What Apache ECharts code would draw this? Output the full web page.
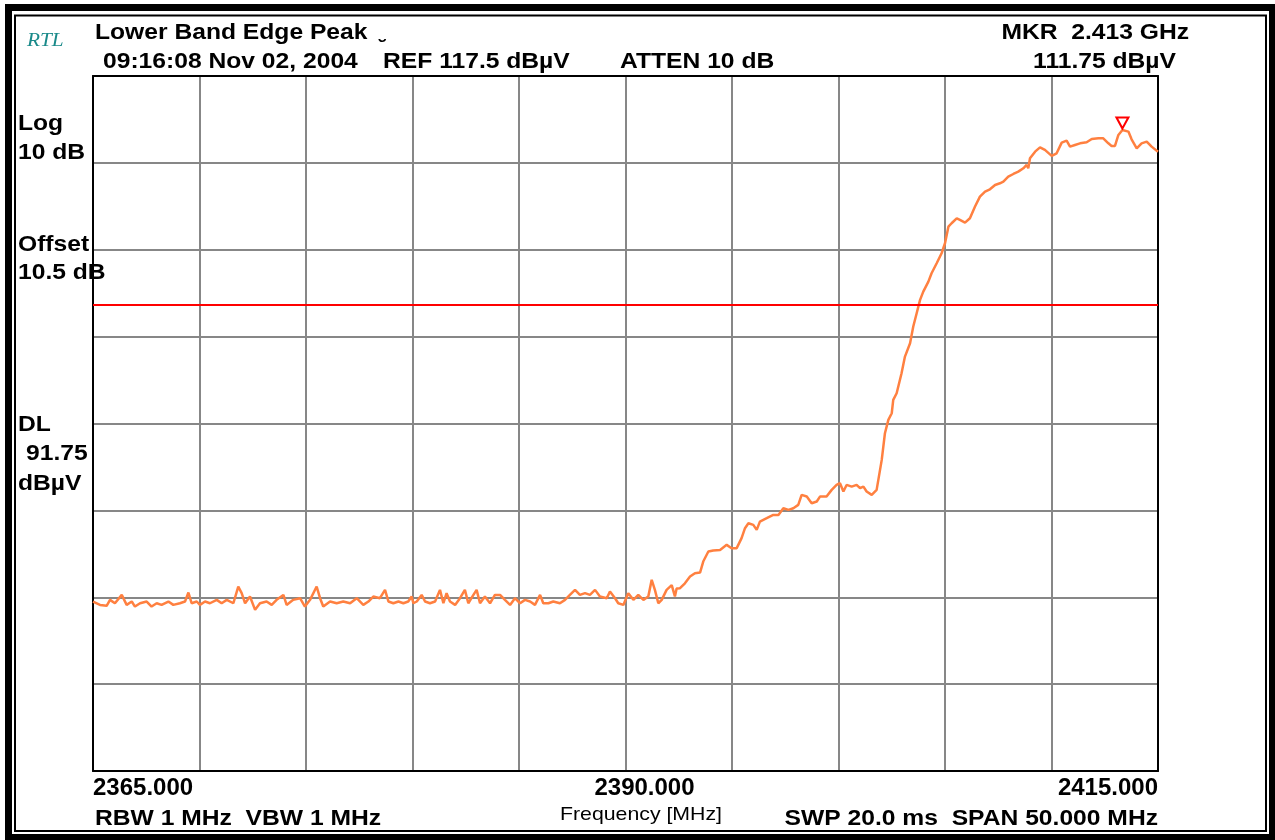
<!DOCTYPE html>
<html><head><meta charset="utf-8">
<script src="https://cdn.jsdelivr.net/npm/echarts@6/dist/echarts.min.js"></script>
<style>html,body{margin:0;padding:0;background:#fff}#c{width:1275px;height:840px}</style>
</head><body><div id="c"></div>
<script>
// Trace: frequency (MHz) and level (dBµV)
const freqMHz = [
2365.00,2365.33,2365.64,2365.80,2366.03,2366.35,2366.58,2366.82,2366.97,2367.21,
2367.52,2367.75,2367.99,2368.22,2368.54,2368.77,2369.08,2369.32,2369.48,2369.63,
2369.87,2370.02,2370.26,2370.49,2370.81,2371.04,2371.28,2371.59,2371.82,2371.98,
2372.14,2372.37,2372.61,2372.84,2373.15,2373.39,2373.62,2373.94,2374.09,2374.40,
2374.72,2374.95,2375.19,2375.50,2375.66,2375.81,2376.13,2376.44,2376.75,2377.07,
2377.38,2377.69,2377.93,2378.16,2378.47,2378.71,2378.87,
2378.94,2379.10,2379.34,2379.57,2379.80,2379.96,2380.04,2380.20,2380.43,2380.59,
2380.82,2381.06,2381.29,2381.45,2381.60,2381.76,2382.00,2382.23,2382.46,2382.62,
2382.86,2383.01,2383.17,2383.40,2383.64,2383.87,2384.11,2384.34,2384.58,2384.81,
2385.05,2385.28,2385.52,2385.75,2385.99,2386.14,2386.38,2386.61,2386.92,2387.16,
2387.39,2387.63,2387.86,2388.10,2388.33,2388.57,2388.80,2389.12,2389.27,2389.51,
2389.66,2389.90,2390.13,2390.37,2390.60,2390.84,2391.07,2391.23,2391.38,2391.54,
2391.70,2391.93,2392.17,2392.32,2392.40,2392.56,2392.79,2393.03,2393.26,2393.50,
2393.65,2393.89,2394.12,2394.44,2394.75,2394.98,2395.22,2395.45,2395.61,2395.77,
2396.00,2396.16,2396.31,2396.63,2396.94,2397.18,2397.41,2397.65,2397.88,2398.11,
2398.27,2398.51,2398.74,2398.98,2399.13,2399.44,2399.68,2399.91,2400.07,2400.23,
2400.38,2400.62,2400.85,2401.01,2401.17,2401.32,2401.56,2401.79,
2401.87,2402.03,2402.18,2402.34,2402.50,2402.57,2402.73,2402.96,2403.12,2403.36,
2403.51,2403.67,2403.83,2403.98,2404.22,2404.37,2404.61,2404.84,2405.00,2405.16,
2405.31,2405.55,2405.70,2405.94,2406.17,2406.41,2406.64,2406.88,2407.11,2407.35,
2407.58,2407.74,2407.97,2408.21,2408.44,2408.68,2408.83,2408.91,2408.99,2409.23,
2409.46,2409.69,2410.01,2410.24,2410.48,2410.71,2410.87,2411.10,2411.34,2411.65,
2411.89,2412.20,2412.43,2412.67,2412.82,2412.98,2413.14,2413.33,2413.61,2413.76,
2414.00,2414.23,2414.47,2414.70,2415.00
];
const levelDbuV = [
57.01,56.62,56.51,57.20,56.81,57.77,56.62,57.01,56.43,56.81,
57.01,56.43,56.81,56.62,57.01,56.62,56.81,57.01,58.04,56.81,
57.01,56.62,57.01,56.81,57.20,56.81,57.20,56.81,58.73,57.97,
56.81,57.58,56.05,56.81,57.01,56.62,57.20,57.77,56.62,57.20,
57.39,56.43,57.20,58.73,57.39,56.43,57.01,56.81,57.01,56.81,
57.39,56.62,57.01,57.58,57.39,58.35,57.01,
57.01,56.81,57.01,56.81,57.01,57.58,56.81,57.01,57.77,57.01,
56.81,57.01,58.35,56.81,57.97,57.01,56.62,57.39,58.35,56.81,
57.77,58.35,56.81,57.58,56.81,57.77,57.77,57.20,56.62,57.39,
56.81,57.20,57.01,56.62,57.77,56.81,56.81,57.01,56.81,57.20,
57.77,58.35,57.77,57.97,57.77,58.35,57.58,57.39,58.16,57.39,
56.81,56.62,57.97,57.20,57.77,57.20,57.58,59.50,58.35,56.81,
57.20,58.35,58.90,57.60,58.50,58.54,59.10,59.88,60.27,60.34,
61.61,62.76,62.88,62.95,63.53,63.15,63.15,64.30,65.45,66.02,
65.83,65.26,66.21,66.60,66.98,66.98,67.75,67.56,67.75,68.13,
69.28,69.09,68.32,68.52,69.09,69.09,69.86,70.43,70.63,69.67,
70.43,70.24,70.43,70.05,70.24,69.67,69.28,69.86,
71.01,73.31,76.38,77.92,78.68,80.22,80.98,83.29,85.20,86.74,
88.66,90.19,91.73,92.68,93.83,94.79,95.94,97.10,98.25,100.16,
100.55,101.12,100.93,100.62,101.12,102.47,103.62,104.19,104.46,104.96,
105.15,105.34,105.92,106.22,106.49,106.88,107.26,106.88,108.03,108.79,
109.29,108.99,108.30,108.60,109.83,110.06,109.37,109.56,109.75,109.87,
110.25,110.33,110.33,109.75,109.45,109.45,110.71,111.29,111.10,110.21,
109.18,109.75,109.95,109.37,108.79
];
const xTickValues = [2365, 2390, 2415];
const xTickLabels = ['2365.000', '2390.000', '2415.000'];
const freqRange = [2365, 2415, 5];          // start, stop, MHz/div
const levelRange = [37.5, 117.5, 10];       // bottom, ref level, dB/div
const displayLine = [91.2];                 // DL line as drawn
const markerPoint = [2413.33, 111.29];      // MKR peak

const FONT = '"Liberation Sans", Arial, sans-serif';
const SX = 1.12;
function txt(text, x, y, o) {
  return {type: 'text', x: x, y: y, z: 100, silent: true, scaleX: SX, scaleY: 1,
    style: Object.assign({text: text, x: 0, y: 0, fill: '#000', fontFamily: FONT, fontWeight: 'bold', fontSize: 22,
      textAlign: 'left', align: 'left', textVerticalAlign: 'middle', verticalAlign: 'middle'}, o || {})};
}

const chart = echarts.init(document.getElementById('c'), null, {renderer: 'canvas'});
const axisBorder = {show: true, lineStyle: {color: '#000', width: 2}};
chart.setOption({
  animation: false,
  backgroundColor: '#fff',
  grid: {left: 93, right: 117, top: 76, bottom: 69, containLabel: false},
  xAxis: [{
    type: 'value', position: 'bottom', min: freqRange[0], max: freqRange[1], interval: freqRange[2],
    axisLine: axisBorder, axisTick: {show: false},
    splitLine: {show: true, lineStyle: {color: '#878787', width: 2}},
    axisLabel: {
      show: true, showMinLabel: true, showMaxLabel: true, hideOverlap: false,
      alignMinLabel: 'left', alignMaxLabel: 'right',
      margin: 5, color: '#000', fontFamily: FONT, fontWeight: 'bold', fontSize: 24,
      rich: {mid: {fontFamily: FONT, fontWeight: 'bold', fontSize: 24, color: '#000', padding: [0, 0, 0, 38]}},
      formatter: function (v) {
        const i = xTickValues.indexOf(Math.round(v * 1000) / 1000);
        if (i < 0) return '';
        return (i === 1) ? '{mid|' + xTickLabels[i] + '}' : xTickLabels[i];
      }
    }
  }, {
    type: 'value', position: 'top', min: freqRange[0], max: freqRange[1], interval: freqRange[2],
    axisLine: axisBorder, axisTick: {show: false}, axisLabel: {show: false}, splitLine: {show: false}
  }],
  yAxis: [{
    type: 'value', position: 'left', min: levelRange[0], max: levelRange[1], interval: levelRange[2],
    axisLine: axisBorder, axisTick: {show: false}, axisLabel: {show: false},
    splitLine: {show: true, lineStyle: {color: '#878787', width: 2}}
  }, {
    type: 'value', position: 'right', min: levelRange[0], max: levelRange[1], interval: levelRange[2],
    axisLine: axisBorder, axisTick: {show: false}, axisLabel: {show: false}, splitLine: {show: false}
  }],
  series: [{
    type: 'line', xAxisIndex: 0, yAxisIndex: 0,
    data: freqMHz.map(function (f, i) { return [f, levelDbuV[i]]; }),
    showSymbol: false, symbol: 'none', smooth: false,
    lineStyle: {color: '#ff8040', width: 2.5},
    markLine: {
      silent: true, symbol: ['none', 'none'], label: {show: false},
      lineStyle: {color: '#ff0000', width: 2, type: 'solid'},
      data: [{yAxis: displayLine[0]}]
    },
    markPoint: {
      silent: true, symbol: 'triangle', symbolRotate: 180, symbolSize: [12, 11], symbolOffset: [0, -7],
      itemStyle: {color: 'rgba(255,255,255,0)', borderColor: '#ff0000', borderWidth: 2},
      label: {show: false},
      data: [{coord: markerPoint}]
    }
  }],
  graphic: [
    {type: 'rect', z: 100, silent: true, shape: {x: 8.5, y: 7.5, width: 1264, height: 830},
      style: {fill: 'none', stroke: '#000', lineWidth: 7}},
    {type: 'rect', z: 100, silent: true, shape: {x: 15, y: 15.5, width: 1251, height: 815.5},
      style: {fill: 'none', stroke: '#000', lineWidth: 2}},
    txt('RTL', 27, 41, {fontFamily: '"Liberation Serif", serif', fontStyle: 'italic', fontWeight: 'normal', fontSize: 19, fill: '#1a8a8a'}),
    txt('Lower Band Edge Peak', 95, 33),
    txt('\u02D8', 379, 48, {fontSize: 20}),
    txt('09:16:08 Nov 02, 2004', 103, 62),
    txt('REF 117.5 dB\u00B5V', 383, 62),
    txt('ATTEN 10 dB', 620, 62),
    txt('MKR  2.413 GHz', 1189, 33, {textAlign: 'right', align: 'right'}),
    txt('111.75 dB\u00B5V', 1176, 62, {textAlign: 'right', align: 'right'}),
    txt('Log', 18, 124),
    txt('10 dB', 18, 153),
    txt('Offset', 18, 245),
    txt('10.5 dB', 18, 273),
    txt('DL', 18, 425),
    txt('91.75', 26, 454),
    txt('dB\u00B5V', 18, 484),
    txt('RBW 1 MHz  VBW 1 MHz', 95, 819),
    txt('Frequency [MHz]', 641, 815, {fontWeight: 'normal', fontSize: 19, textAlign: 'center', align: 'center'}),
    txt('SWP 20.0 ms  SPAN 50.000 MHz', 1158, 819, {textAlign: 'right', align: 'right'})
  ]
});
</script>
</body></html>
